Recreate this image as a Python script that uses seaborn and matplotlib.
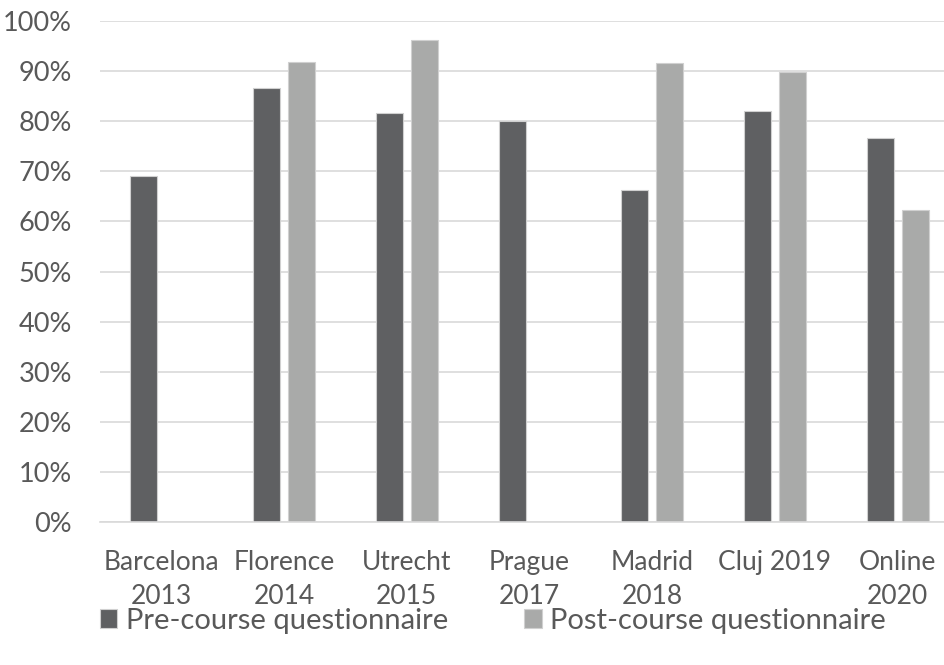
import numpy as np
import pandas as pd
import matplotlib
matplotlib.use("Agg")
import matplotlib.pyplot as plt
import seaborn as sns
from matplotlib.ticker import PercentFormatter

# Values (percent of respondents)
courses = ["Barcelona\n2013", "Florence\n2014", "Utrecht\n2015", "Prague\n2017",
           "Madrid\n2018", "Cluj 2019", "Online\n2020"]
pre_course = [69.1, 86.6, 81.6, 80.0, 66.2, 82.0, 76.6]
post_course = [np.nan, 91.8, 96.3, np.nan, 91.6, 89.8, 62.2]
series_names = ["Pre-course questionnaire", "Post-course questionnaire"]
colors = ["#5f6062", "#a9aaa9"]

df = pd.DataFrame({
    "course": courses * 2,
    "value": pre_course + post_course,
    "series": [series_names[0]] * len(courses) + [series_names[1]] * len(courses),
})

sns.set_style("white")
plt.rcParams['font.family'] = ['Lato', 'DejaVu Sans']
text_color = "#595959"

fig = plt.figure(figsize=(9.45, 6.65), dpi=100)
# axes extends slightly past the right edge, like the cropped original
ax = fig.add_axes([100 / 945, 1 - 522 / 665, 859 / 945, 501 / 665])

sns.barplot(data=df, x="course", y="value", hue="series", hue_order=series_names,
            palette=colors, width=0.57, gap=0.228, edgecolor="#d0d0d0",
            linewidth=0.8, ax=ax, legend=True)

ax.set_ylim(0, 100)
ax.set_xlim(-0.5, 6.5)
ax.set_yticks(np.arange(0, 101, 10))
ax.yaxis.set_major_formatter(PercentFormatter(decimals=0))
ax.grid(axis="y", color="#d9d9d9", linewidth=1.2)
ax.set_axisbelow(True)
for side in ["top", "right", "left"]:
    ax.spines[side].set_visible(False)
ax.spines["bottom"].set_color("#d9d9d9")
ax.spines["bottom"].set_linewidth(1.2)
ax.tick_params(axis="both", length=0, colors=text_color)
ax.tick_params(axis="x", labelsize=19, pad=20)
ax.tick_params(axis="y", labelsize=19.5, pad=20)
for lab in ax.get_xticklabels():
    lab.set_linespacing(1.45)
ax.set_xlabel("")
ax.set_ylabel("")

handles, labels = ax.get_legend_handles_labels()
ax.legend(handles, labels, loc="center", bbox_to_anchor=(493 / 945, 1 - 621 / 665),
          bbox_transform=fig.transFigure, ncol=2, frameon=False, fontsize=21,
          handlelength=0.6, handleheight=0.6, handletextpad=0.3, columnspacing=2.6,
          labelcolor=text_color)

fig.savefig("out.png", dpi=100)
